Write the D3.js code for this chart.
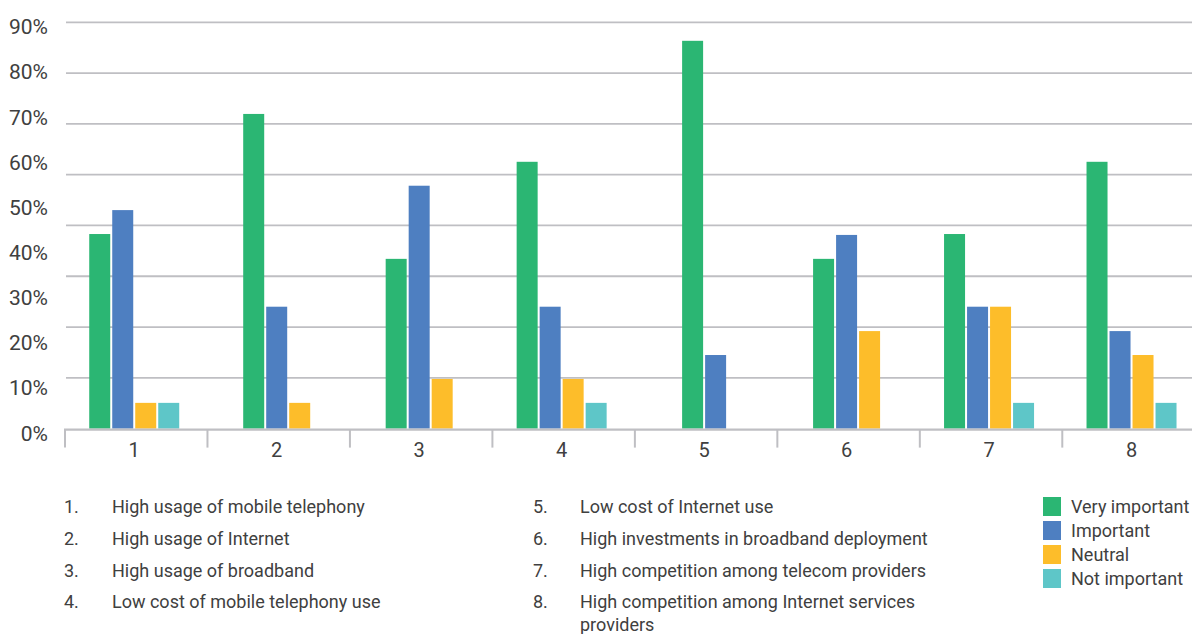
<!DOCTYPE html>
<html>
<head>
<meta charset="utf-8">
<script src="https://cdn.jsdelivr.net/npm/d3@7"></script>
<style>
  html, body { margin: 0; padding: 0; background: #ffffff; }
  svg { display: block; }
  text { font-family: "Liberation Sans Narrow", "Arial Narrow", "Roboto", sans-serif; fill: #404040; }
</style>
</head>
<body>
<svg id="chart" width="1192" height="634"></svg>
<script>
// Survey: importance of factors for telecom market development (% of respondents)
const categories = ["1", "2", "3", "4", "5", "6", "7", "8"];
const seriesNames = ["Very important", "Important", "Neutral", "Not important"];
const seriesColors = ["#2bb673", "#4e7fc1", "#fdbd2a", "#5ec6c8"];

const veryImportant = [43.1, 69.7, 37.6, 59.1, 85.9, 37.6, 43.1, 59.1];
const important     = [48.4, 27.0, 53.8, 27.0, 16.3, 42.9, 27.0, 21.6];
const neutral       = [5.7, 5.7, 11.0, 11.0, 0, 21.6, 27.0, 16.3];
const notImportant  = [5.7, 0, 0, 5.7, 0, 0, 5.7, 5.7];

const yTickLabels = [0, 10, 20, 30, 40, 50, 60, 70, 80, 90];

const factorLabels = [
  "High usage of mobile telephony",
  "High usage of Internet",
  "High usage of broadband",
  "Low cost of mobile telephony use",
  "Low cost of Internet use",
  "High investments in broadband deployment",
  "High competition among telecom providers",
  "High competition among Internet services providers"
];

const seriesValues = [veryImportant, important, neutral, notImportant];

const svg = d3.select("#chart");
const W = 1192;
const gridColor = "#bfbfc3";

const x = d3.scaleBand().domain(categories).range([65, 65 + 8 * 142.47]).padding(0);
const y = d3.scaleLinear().domain([0, 90]).range([428.6, 22.3]);

// Horizontal gridlines: eight equal divisions of the value range
const gridValues = d3.range(0, 8).map(i => 90 * (8 - i) / 8);
svg.append("g").selectAll("line").data(gridValues).join("line")
  .attr("x1", 66).attr("x2", W)
  .attr("y1", d => y(d)).attr("y2", d => y(d))
  .attr("stroke", gridColor).attr("stroke-width", 1.8);

// Y labels
svg.append("g").selectAll("text").data(yTickLabels).join("text")
  .attr("x", 48).attr("y", d => y(d) + 12)
  .attr("text-anchor", "end")
  .style("font-size", "21px")
  .text(d => d + "%");

// Bars: non-zero responses are grouped and centred on each category
const barStep = 23;
const groups = svg.append("g").selectAll("g").data(categories).join("g");
groups.each(function(cat, ci) {
  const present = seriesNames
    .map((name, si) => ({ name, si, v: seriesValues[si][ci] }))
    .filter(d => d.v > 0);
  const cx = x(cat) + x.bandwidth() / 2 - 2;
  const inner = d3.scaleBand()
    .domain(present.map(d => d.name))
    .range([cx - present.length * barStep / 2, cx + present.length * barStep / 2])
    .paddingInner(2 / barStep).paddingOuter(1 / barStep);
  d3.select(this).selectAll("rect").data(present).join("rect")
    .attr("x", d => inner(d.name))
    .attr("width", inner.bandwidth())
    .attr("y", d => y(d.v))
    .attr("height", d => y(0) - y(d.v))
    .attr("fill", d => seriesColors[d.si]);
});

// Category axis
const axisY = y(0) + 1;
svg.append("line")
  .attr("x1", 64).attr("x2", W).attr("y1", axisY).attr("y2", axisY)
  .attr("stroke", gridColor).attr("stroke-width", 2.2);
svg.append("g").selectAll("line").data(categories).join("line")
  .attr("x1", d => x(d)).attr("x2", d => x(d))
  .attr("y1", axisY).attr("y2", axisY + 18)
  .attr("stroke", gridColor).attr("stroke-width", 2);
svg.append("g").selectAll("text").data(categories).join("text")
  .attr("x", d => x(d) + x.bandwidth() / 2 - 2)
  .attr("y", axisY + 27)
  .attr("text-anchor", "middle")
  .style("font-size", "20px")
  .text(d => d);

// Numbered list of factors (two columns)
const listFont = "18px";
const rowY = [513, 545, 577, 608];
factorLabels.forEach((label, i) => {
  const col = i < 4 ? 0 : 1;
  const row = i % 4;
  const nx = col === 0 ? 64 : 533;
  const tx = col === 0 ? 112 : 580;
  svg.append("text").attr("x", nx).attr("y", rowY[row])
    .style("font-size", listFont).text(categories[i] + ".");
  const t = svg.append("text").attr("x", tx).attr("y", rowY[row]).style("font-size", listFont);
  if (i === 7) {
    t.append("tspan").attr("x", tx).text("High competition among Internet services");
    t.append("tspan").attr("x", tx).attr("dy", 23).text("providers");
  } else {
    t.text(label);
  }
});

// Series legend
const legend = svg.append("g").selectAll("g").data(seriesNames).join("g")
  .attr("transform", (d, i) => `translate(1043, ${497 + i * 24})`);
legend.append("rect").attr("width", 18).attr("height", 19)
  .attr("fill", (d, i) => seriesColors[i]);
legend.append("text").attr("x", 28).attr("y", 16)
  .style("font-size", "18px").text(d => d);
</script>
</body>
</html>
